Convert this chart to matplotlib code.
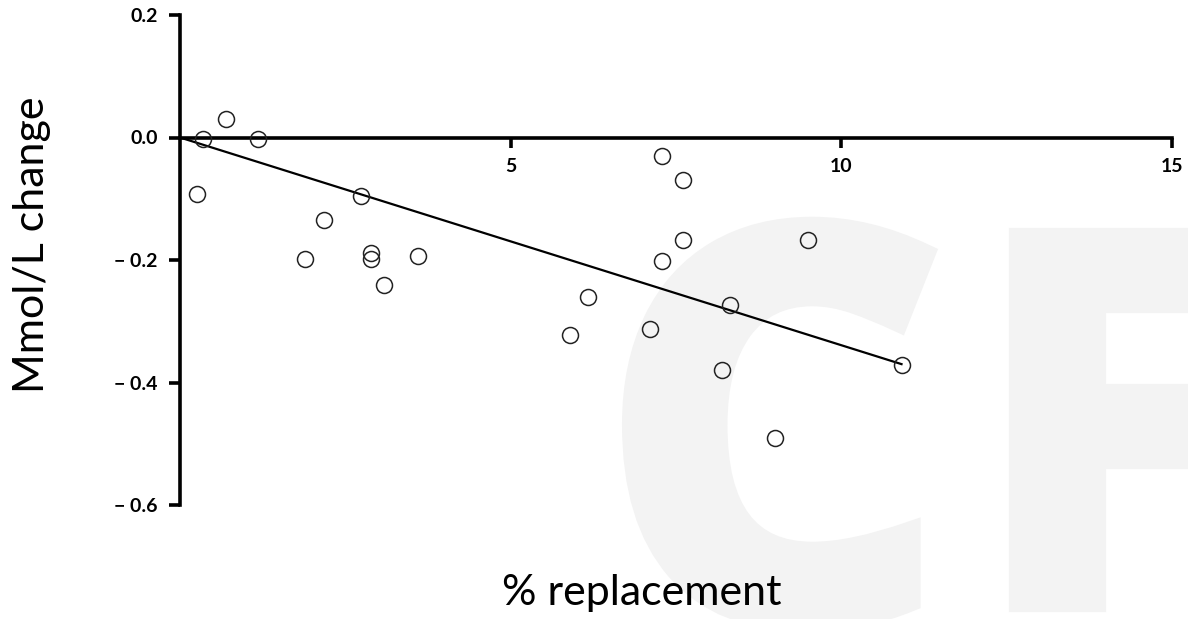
import matplotlib
matplotlib.use("Agg")
import matplotlib.pyplot as plt
import matplotlib.patheffects as pe

# Data
pct_replacement = [0.70, 0.35, 1.18, 0.26, 2.74, 2.18, 1.89, 2.89, 2.89, 3.09, 3.60,
                   5.90, 6.17, 7.10, 7.29, 7.29, 7.61, 7.61, 8.20, 8.31, 9.00, 9.50, 10.91]
mmol_change = [0.031, -0.003, -0.003, -0.093, -0.095, -0.134, -0.199, -0.188, -0.199,
               -0.240, -0.194, -0.322, -0.260, -0.312, -0.031, -0.201, -0.070, -0.168,
               -0.380, -0.274, -0.490, -0.167, -0.371]
fit_x = [0.0, 10.91]
fit_y = [0.0, -0.370]

xticks = [5, 10, 15]
yticks = [0.2, 0.0, -0.2, -0.4, -0.6]
yticklabels = ["0.2", "0.0", "\u2212 0.2", "\u2212 0.4", "\u2212 0.6"]

fig = plt.figure(figsize=(11.88, 6.19), dpi=100)
ax = fig.add_axes([180/1188, 1-505/619, (1172-180)/1188, (505-15)/619])
ax.patch.set_alpha(0)

# watermark
wm_color = "#f3f3f3"
wm_effects = [pe.withStroke(linewidth=16, foreground=wm_color, joinstyle="miter")]
fig.text(602/1188, 1-615/619, "C", fontsize=385, fontweight="bold", family="Open Sans",
         color=wm_color, ha="left", va="baseline", zorder=-1, path_effects=wm_effects)
fig.text(974/1188, 1-601/619, "F", fontsize=365, fontweight="bold", family="Open Sans",
         color=wm_color, ha="left", va="baseline", zorder=-1, path_effects=wm_effects)

ax.plot(fit_x, fit_y, color="black", lw=1.6, zorder=3)
ax.plot(pct_replacement, mmol_change, linestyle="none", marker="o", markersize=11.5,
        markerfacecolor="none", markeredgecolor="#222222", markeredgewidth=1.1, zorder=4)

ax.set_xlim(0, 15)
ax.set_ylim(-0.6, 0.2)

for s in ["top", "right"]:
    ax.spines[s].set_visible(False)
ax.spines["bottom"].set_position(("data", 0))
ax.spines["left"].set_linewidth(2.6)
ax.spines["bottom"].set_linewidth(2.6)
ax.spines["left"].set_bounds(-0.6, 0.2)
ax.spines["bottom"].set_bounds(0, 15)

ax.set_xticks(xticks)
ax.set_xticklabels([str(t) for t in xticks], fontsize=14, fontweight="bold", family="Lato")
ax.set_yticks(yticks)
ax.set_yticklabels(yticklabels, fontsize=14, fontweight="bold", family="Lato")
ax.tick_params(axis="x", direction="out", length=7, width=2.6, pad=8)
ax.tick_params(axis="y", direction="out", length=8, width=2.6, pad=8)

fig.text(642/1188, 1-593/619, "% replacement", fontsize=31, family="Lato",
         ha="center", va="center")
fig.text(32/1188, 1-245/619, "Mmol/L change", fontsize=31, family="Lato",
         ha="center", va="center", rotation=90)

fig.savefig("out.png", dpi=100)
